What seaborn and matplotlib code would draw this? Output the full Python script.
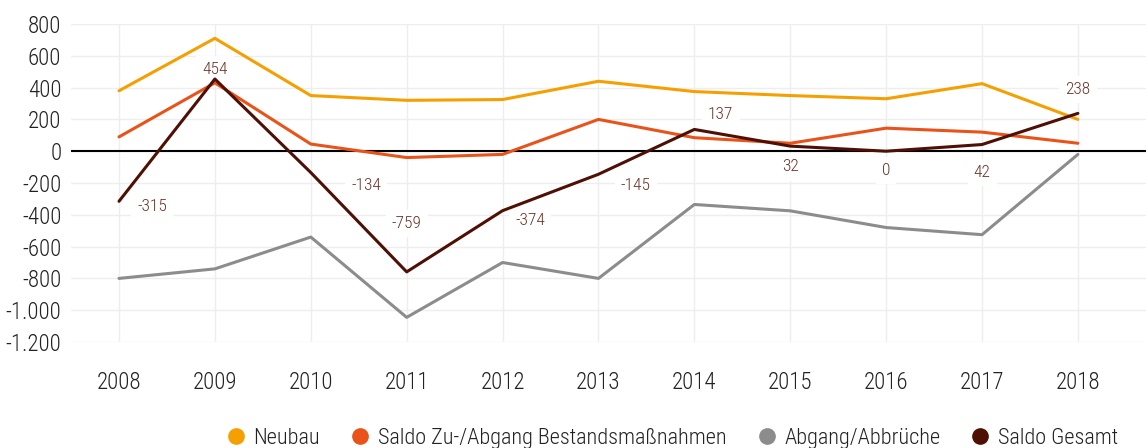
import matplotlib
matplotlib.use("Agg")
import matplotlib.pyplot as plt
from matplotlib.lines import Line2D
from matplotlib.ticker import FuncFormatter, MultipleLocator
import numpy as np
import pandas as pd
import seaborn as sns

# Wohnungsbestand: Veränderungen je Jahr
years = ["2008", "2009", "2010", "2011", "2012", "2013", "2014", "2015", "2016", "2017", "2018"]
neubau = [380, 710, 350, 320, 325, 440, 375, 350, 330, 425, 200]
saldo_bestand = [90, 430, 45, -40, -20, 200, 85, 50, 145, 120, 50]
abgang = [-800, -740, -540, -1045, -700, -800, -335, -375, -480, -525, -20]
saldo_gesamt = [-315, 454, -134, -759, -374, -145, 137, 32, 0, 42, 238]

series_names = ["Neubau", "Saldo Zu-/Abgang Bestandsmaßnahmen", "Abgang/Abbrüche", "Saldo Gesamt"]
series_values = [neubau, saldo_bestand, abgang, saldo_gesamt]
colors = ["#F5A000", "#E9531A", "#8C8C8C", "#4E1005"]

# label offsets (points) for the "Saldo Gesamt" value labels
label_offsets = [(24, -4), (0, 7), (40, -9), (0, 35), (20, -7), (27, -8),
                 (19, 11), (0, -15), (0, -14), (0, -20), (0, 17)]

df = pd.DataFrame({
    "Jahr": np.tile(years, len(series_names)),
    "Serie": np.repeat(series_names, len(years)),
    "Wert": np.concatenate(series_values),
})

sns.set_theme(style="white")
plt.rcParams["font.family"] = ["Roboto Condensed", "DejaVu Sans"]
plt.rcParams["font.stretch"] = "condensed"
plt.rcParams["font.weight"] = "light"

fig = plt.figure(figsize=(11.46, 4.48), dpi=100)
ax = fig.add_axes([0.062, 0.2366, 0.938, 0.7098])

sns.lineplot(data=df, x="Jahr", y="Wert", hue="Serie", hue_order=series_names,
             palette=colors, linewidth=2.2, sort=False, ax=ax, legend=False)

ax.axhline(0, color="black", linewidth=1.5, zorder=1.5)

ax.set_ylim(-1200, 800)
ax.set_xlim(-0.5, 10.71)
ax.yaxis.set_major_locator(MultipleLocator(200))
ax.yaxis.set_major_formatter(FuncFormatter(lambda v, p: f"{int(v):,}".replace(",", ".")))
ax.grid(True, color="#EEEEEE", linewidth=1.0)
ax.set_axisbelow(True)
for s in ax.spines.values():
    s.set_visible(False)
ax.set_xlabel("")
ax.set_ylabel("")
ax.tick_params(axis="y", labelsize=16.5, pad=7, length=0, colors="#222222")
ax.tick_params(axis="x", labelsize=16.5, pad=21, length=0, colors="#222222")

for i, (v, off) in enumerate(zip(saldo_gesamt, label_offsets)):
    ax.annotate(f"{v}", xy=(i, v), xytext=off, textcoords="offset points",
                ha="center", va="center", fontsize=12.5, color="#6B3328",
                bbox=dict(boxstyle="square,pad=0.35", fc="white", ec="none"), zorder=1.8)

handles = [Line2D([0], [0], marker="o", linestyle="none", markersize=11,
                  markerfacecolor=c, markeredgecolor=c) for c in colors]
fig.legend(handles, series_names, loc="center", bbox_to_anchor=(0.585, 0.022),
           ncol=4, frameon=False, fontsize=16, handletextpad=0.2, handlelength=1.2,
           columnspacing=1.2, labelcolor="#222222")

fig.savefig("out.png", dpi=100)
